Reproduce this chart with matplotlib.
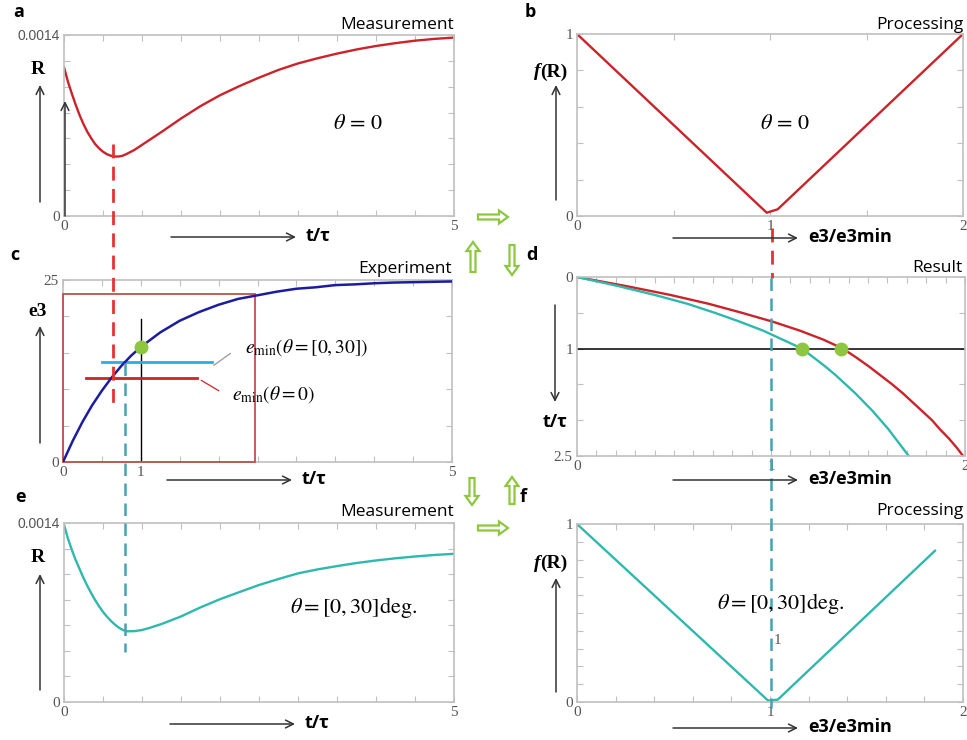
"""
Six-panel sketch: measurement, processing, experiment and result curves
"""

import numpy as np
import matplotlib.pyplot as plt
from matplotlib.patches import FancyArrow, Rectangle

plt.rcParams['mathtext.fontset'] = 'stix'

## data

# a: R(t), theta = 0
t_a = [0, 0.05, 0.1, 0.15, 0.2, 0.25, 0.3, 0.35, 0.4, 0.45, 0.5, 0.55, 0.6,
       0.65, 0.7, 0.75, 0.8, 0.9, 1.0, 1.1, 1.25, 1.5, 1.75, 2.0, 2.25, 2.5,
       2.75, 3.0, 3.25, 3.5, 3.75, 4.0, 4.25, 4.5, 4.75, 5.0]
R_a = [0.00115, 0.00104, 0.000947, 0.00086, 0.00078, 0.00071, 0.00065,
       0.0006, 0.000556, 0.000523, 0.000497, 0.000478, 0.000466, 0.00046,
       0.00046, 0.000466, 0.000479, 0.00051, 0.00055, 0.00059, 0.00065,
       0.000754, 0.00085, 0.000934, 0.001005, 0.00107, 0.00113, 0.00118,
       0.00122, 0.001256, 0.001288, 0.001315, 0.001337, 0.001356, 0.00137,
       0.00138]

# e: R(t), theta = [0,30]
t_e = t_a
R_e = [0.001387, 0.00128, 0.00119, 0.00111, 0.00104, 0.00097, 0.000907,
       0.00085, 0.000796, 0.000748, 0.000705, 0.000668, 0.000635, 0.000607,
       0.000583, 0.000565, 0.000553, 0.000554, 0.000563, 0.00058, 0.00061,
       0.000669, 0.00074, 0.000804, 0.00086, 0.000915, 0.000962, 0.001006,
       0.001037, 0.001063, 0.001087, 0.001107, 0.001124, 0.001138, 0.00115,
       0.001159]

# c: e3(t)
t_c = [0, 0.125, 0.25, 0.375, 0.5, 0.625, 0.75, 0.875, 1.0, 1.25, 1.5, 1.75,
       2.0, 2.25, 2.5, 2.75, 3.0, 3.25, 3.5, 3.75, 4.0, 4.25, 4.5, 4.75, 5.0]
e3_c = [0, 2.9, 5.5, 7.8, 9.8, 11.6, 13.2, 14.6, 15.8, 17.8, 19.4, 20.6,
        21.6, 22.4, 22.9, 23.4, 23.8, 24.0, 24.3, 24.4, 24.55, 24.65, 24.7,
        24.75, 24.8]
emin_0 = 11.5
emin_30 = 13.8
t_mark = 1.0
e3_mark = 15.8

# d: t against e3/e3min
t_d = [0, 0.125, 0.25, 0.375, 0.5, 0.625, 0.75, 0.875, 1.0, 1.125, 1.25,
       1.375, 1.5, 1.625, 1.75, 1.875, 2.0, 2.125, 2.25, 2.375, 2.5]
ratio_0 = [0, 0.25, 0.48, 0.68, 0.85, 1.01, 1.15, 1.27, 1.37, 1.44, 1.505,
           1.565, 1.625, 1.68, 1.73, 1.78, 1.83, 1.87, 1.915, 1.955, 1.99]
ratio_30 = [0, 0.21, 0.40, 0.57, 0.71, 0.84, 0.96, 1.06, 1.16, 1.22, 1.28,
            1.335, 1.385, 1.435, 1.48, 1.525, 1.565, 1.605, 1.64, 1.675, 1.71]

# b and f: f(R) against e3/e3min
x_b = [0, 0.983, 1.04, 2.0]
y_b = [1.0, 0.018, 0.037, 1.0]
x_f = [0, 0.99, 1.04, 1.855]
y_f = [1.0, 0.008, 0.013, 0.85]

red = '#cc2229'
blue = '#1c1ca0'
teal = '#2fb8ad'
sky = '#2aaee0'
green = '#8dc63f'
grey = '#c0c0c0'

W, H = 967, 740
fig = plt.figure(figsize=(W/100, H/100), dpi=100)


def px_axes(l, t, r, b):
    return fig.add_axes([l/W, 1-b/H, (r-l)/W, (b-t)/H])


def style(ax, xt, yt, xl, yl):
    ax.set_xticks(xt)
    ax.set_xticklabels(xl)
    ax.set_yticks(yt)
    ax.set_yticklabels(yl)
    for s in ax.spines.values():
        s.set_color(grey)
        s.set_linewidth(1.2)
    ax.tick_params(direction='in', length=4, color=grey, top=True, right=True,
                   labelsize=11, labelcolor='#555555', pad=3)
    for lbl in ax.get_xticklabels() + ax.get_yticklabels():
        if lbl.get_text() == '0.0014':
            lbl.set_fontfamily('Liberation Sans')
            lbl.set_fontsize(10)
        else:
            lbl.set_fontfamily('Liberation Serif')


def labs(n, keep):
    return [keep.get(i, '') for i in range(n)]


# a
ax = px_axes(64, 35, 454, 216)
ax.plot(t_a, R_a, color=red, lw=1.7)
ax.set_xlim(0, 5)
ax.set_ylim(0, 0.0014)
style(ax, np.linspace(0, 5, 11), np.linspace(0, 0.0014, 8),
      labs(11, {0: '0', 10: '5'}), labs(8, {0: '0', 7: '0.0014'}))

# b
ax = px_axes(577, 34, 963, 216)
ax.plot(x_b, y_b, color=red, lw=1.7)
ax.set_xlim(0, 2)
ax.set_ylim(0, 1)
style(ax, np.linspace(0, 2, 5), np.linspace(0, 1, 6),
      labs(5, {0: '0', 2: '1', 4: '2'}), labs(6, {0: '0', 5: '1'}))

# c
ax = px_axes(63, 280, 452, 462)
ax.add_patch(Rectangle((0, 0), 2.47, 23.1, fill=False, ec='#c0504d', lw=1.3,
                       clip_on=False, zorder=3))
ax.plot(t_c, e3_c, color=blue, lw=1.8, zorder=4)
ax.plot([t_mark, t_mark], [0, 19.6], color='k', lw=1)
ax.plot([0.5, 1.92], [emin_30, emin_30], color=sky, lw=2)
ax.plot([0.3, 1.72], [emin_0, emin_0], color=red, lw=2)
ax.plot([1.94, 2.15], [13.3, 14.9], color='#a0a0a0', lw=1)
ax.plot([1.78, 2.0], [11.2, 9.8], color=red, lw=0.9)
ax.plot([t_mark], [e3_mark], 'o', color=green, ms=9, zorder=5)
ax.set_xlim(0, 5)
ax.set_ylim(0, 25)
style(ax, np.linspace(0, 5, 11), np.linspace(0, 25, 6),
      labs(11, {0: '0', 2: '1', 10: '5'}), labs(6, {0: '0', 5: '25'}))

# d
ax = px_axes(577, 277, 965, 456)
ax.axhline(1, color='k', lw=1.1)
ax.plot(ratio_0, t_d, color=red, lw=1.7)
ax.plot(ratio_30, t_d, color=teal, lw=1.7)
ax.plot([1.16, 1.36], [1, 1], 'o', color=green, ms=9, ls='none')
ax.set_xlim(0, 2)
ax.set_ylim(2.5, 0)
style(ax, np.linspace(0, 2, 21), np.linspace(0, 2.5, 6),
      labs(21, {0: '0', 10: '1', 20: '2'}), labs(6, {0: '0', 2: '1', 5: '2.5'}))

# e
ax = px_axes(64, 523, 454, 702)
ax.plot(t_e, R_e, color=teal, lw=1.7)
ax.set_xlim(0, 5)
ax.set_ylim(0, 0.0014)
style(ax, np.linspace(0, 5, 11), np.linspace(0, 0.0014, 8),
      labs(11, {0: '0', 10: '5'}), labs(8, {0: '0', 7: '0.0014'}))

# f
ax = px_axes(577, 524, 963, 702)
ax.plot(x_f, y_f, color=teal, lw=1.7)
ax.set_xlim(0, 2)
ax.set_ylim(0, 1)
style(ax, np.linspace(0, 2, 11), np.linspace(0, 1, 11),
      labs(11, {0: '0', 5: '1', 10: '2'}), labs(11, {0: '0', 10: '1'}))

## overlay in pixel coordinates for arrows, labels and links
ov = fig.add_axes([0, 0, 1, 1])
ov.set_xlim(0, W)
ov.set_ylim(H, 0)
ov.axis('off')
ov.patch.set_alpha(0)


def arr(x0, y0, x1, y1):
    ov.annotate('', xy=(x1, y1), xytext=(x0, y0),
                arrowprops=dict(arrowstyle='->', color='#333333', lw=1.1,
                                mutation_scale=14, shrinkA=0, shrinkB=0))


def block(x, y, dx, dy):
    ov.add_patch(FancyArrow(x, y, dx, dy, width=5, head_width=13, head_length=9,
                            length_includes_head=True, fc='white', ec=green, lw=1.6))


serif = 'Liberation Serif'
sans = 'Open Sans'

# panel letters and titles
for s, x, y in [('a', 19, 12), ('b', 530, 12), ('c', 15, 255),
                ('d', 532, 255), ('e', 20, 497), ('f', 523, 497)]:
    ov.text(x, y, s, fontfamily=sans, fontweight='bold', fontsize=13,
            ha='center', va='center')
for s, x, y in [('Measurement', 454, 25), ('Processing', 963, 25),
                ('Experiment', 452, 269), ('Result', 963, 268),
                ('Measurement', 454, 512), ('Processing', 963, 511)]:
    ov.text(x, y, s, fontfamily=sans, fontsize=12.5, ha='right', va='center')

# y axis labels with arrows
ov.text(38, 70, 'R', fontfamily=serif, fontweight='bold', fontsize=14, ha='center', va='center')
arr(40, 202, 40, 85)
arr(65, 216, 65, 101)
ov.text(38, 311, 'e3', fontfamily=serif, fontweight='bold', fontsize=14, ha='center', va='center')
arr(40, 443, 40, 326)
ov.text(38, 557, 'R', fontfamily=serif, fontweight='bold', fontsize=14, ha='center', va='center')
arr(40, 690, 40, 574)
for y_txt, y0, y1 in [(72, 200, 85), (563, 692, 578)]:
    ov.text(540, y_txt, 'f', fontfamily=serif, fontweight='bold', fontstyle='italic',
            fontsize=14, ha='right', va='center')
    ov.text(540, y_txt, '(R)', fontfamily=serif, fontweight='bold', fontsize=14,
            ha='left', va='center')
    arr(556, y0, 556, y1)
arr(555, 305, 555, 402)
ov.text(555, 422, 't/τ', fontfamily=sans, fontweight='bold', fontsize=13, ha='center', va='center')

# x axis arrows with labels
for x0, x1, y, s in [(171, 296, 237, 't/τ'), (673, 798, 238, 'e3/e3min'),
                     (167, 292, 480, 't/τ'), (673, 798, 480, 'e3/e3min'),
                     (170, 295, 724, 't/τ'), (673, 798, 728, 'e3/e3min')]:
    arr(x0, y, x1, y)
    ov.text(x1 + 10, y - 1, s, fontfamily=sans, fontweight='bold', fontsize=13,
            ha='left', va='center')

# theta notes
ov.text(333, 123, r'$\theta\,=\,0$', fontsize=16, va='center')
ov.text(760, 123, r'$\theta\,=\,0$', fontsize=16, va='center')
ov.text(290, 607, r'$\theta = [0,30]\mathrm{deg}.$', fontsize=16, va='center')
ov.text(717, 604, r'$\theta = [0,30]\mathrm{deg}.$', fontsize=16, va='center')
ov.text(245, 348, r'$e_{\mathrm{min}}\left(\theta=\left[0,30\right]\right)$', fontsize=14, va='center')
ov.text(232, 395, r'$e_{\mathrm{min}}\left(\theta=0\right)$', fontsize=14, va='center')
ov.text(777, 640, '1', fontfamily=serif, fontsize=11, color='#555555', ha='center', va='center')

# dashed links between panels
ov.plot([112.5, 112.5], [144, 403], color='#e8312f', lw=2, ls=(0, (5, 3)))
ov.plot([772, 772], [228, 278], color='#e8312f', lw=2, ls=(0, (5, 3)))
ov.plot([125, 125], [363, 652], color='#4a9fb2', lw=1.8, ls=(0, (5, 3)))
ov.plot([771, 771], [278, 708], color='#4a9fb2', lw=1.8, ls=(0, (5, 3)))

# green flow arrows
block(478, 217, 30, 0)
block(473, 272, 0, -30)
block(512, 245, 0, 30)
block(472, 478, 0, 27)
block(512, 504, 0, -27)
block(478, 528, 30, 0)

fig.savefig('out.png', dpi=100)
